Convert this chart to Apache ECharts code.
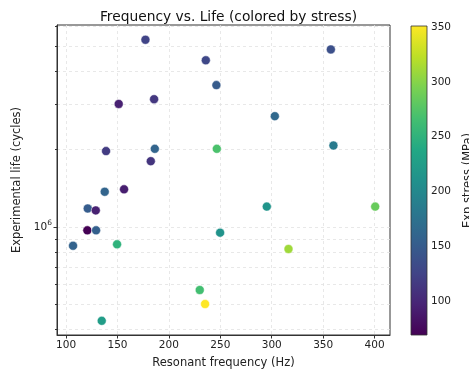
<!DOCTYPE html>
<html>
<head>
<meta charset="utf-8">
<script src="https://cdn.jsdelivr.net/npm/echarts@6/dist/echarts.min.js"></script>
<style>html,body{margin:0;padding:0;background:#fff}#c{width:469px;height:374px}</style>
</head>
<body>
<div id="c"></div>
<script>
// ---- data ----
const frequency = [177.2, 235.9, 246.2, 151.2, 185.6, 138.9, 186.3, 182.4, 246.6, 357.5, 303.0, 360.0, 137.6, 156.4, 121.1, 128.9, 120.7, 129.2, 106.8, 149.6, 249.8, 230.0, 235.2, 134.7, 295.2, 400.6, 316.3];
const life = [5.32e6, 4.43e6, 3.55e6, 3.0e6, 3.13e6, 1.97e6, 2.01e6, 1.80e6, 2.01e6, 4.88e6, 2.69e6, 2.07e6, 1.37e6, 1.40e6, 1.18e6, 1.16e6, 0.971e6, 0.971e6, 0.846e6, 0.857e6, 0.951e6, 0.570e6, 0.503e6, 0.433e6, 1.20e6, 1.20e6, 0.822e6];
const stress = [125, 130, 150, 95, 115, 118, 160, 112, 270, 138, 165, 185, 160, 92, 152, 95, 69, 155, 158, 250, 212, 265, 351, 225, 215, 285, 310];
const xTicks = [100, 150, 200, 250, 300, 350, 400];
const yMajorTicks = [1e6];
const yMinorTicks = [4e5, 5e5, 6e5, 7e5, 8e5, 9e5, 2e6, 3e6, 4e6, 5e6, 6e6];
const cbTicks = [100, 150, 200, 250, 300, 350];

const viridis = ['#440154','#482475','#414487','#355f8d','#2a788e','#21918c','#22a884','#44bf70','#7ad151','#bddf26','#fde725'];
const sMin = Math.min(...stress), sMax = Math.max(...stress);
const points = frequency.map((f, i) => [f, life[i], stress[i]]);

const FONT = 'DejaVu Sans';
const gridStyle = {show: true, lineStyle: {color: '#e3e3e3', type: [3, 3], width: 0.8}};

const chart = echarts.init(document.getElementById('c'));
chart.setOption({
  animation: false,
  textStyle: {fontFamily: FONT},
  title: {
    text: 'Frequency vs. Life (colored by stress)',
    left: 223.5, textAlign: 'center', top: 5,
    textStyle: {fontFamily: FONT, fontSize: 13.8, fontWeight: 'normal', color: '#111'}
  },
  grid: [
    {left: 57, right: 79, top: 25, bottom: 39, show: true, borderColor: '#333', borderWidth: 1, outerBoundsMode: 'none', containLabel: false},
    {left: 411, width: 16, top: 26, height: 309, outerBoundsMode: 'none', containLabel: false}
  ],
  xAxis: [
    {
      type: 'value', gridIndex: 0, min: 91.2, max: 415,
      name: 'Resonant frequency (Hz)', nameLocation: 'middle', nameGap: 22,
      nameTextStyle: {fontFamily: FONT, fontSize: 11.5, color: '#222'},
      axisLine: {show: true, onZero: false, lineStyle: {color: '#333'}},
      axisTick: {show: true, length: 3.5, customValues: xTicks, lineStyle: {color: '#333'}},
      axisLabel: {customValues: xTicks, fontFamily: FONT, fontSize: 10.5, color: '#222', margin: 5},
      splitLine: gridStyle
    },
    {type: 'value', gridIndex: 1, min: 0, max: 1, show: false}
  ],
  yAxis: [
    {
      type: 'log', logBase: 10, gridIndex: 0, min: 3.815e5, max: 6.07e6, position: 'left',
      name: 'Experimental life (cycles)', nameLocation: 'middle', nameGap: 33, nameRotate: 90,
      nameTextStyle: {fontFamily: FONT, fontSize: 11.5, color: '#222'},
      axisLine: {show: true, onZero: false, lineStyle: {color: '#333'}},
      axisTick: {show: true, length: 3.5, customValues: yMajorTicks, lineStyle: {color: '#333'}},
      axisLabel: {
        customValues: yMajorTicks, margin: 5, color: '#222',
        formatter: v => '{b|10}{s|' + Math.round(Math.log10(v)) + '}',
        rich: {
          b: {fontFamily: FONT, fontSize: 10.5, color: '#222'},
          s: {fontFamily: FONT, fontSize: 7.5, color: '#222', padding: [0, 0, 7, 0]}
        }
      },
      splitLine: gridStyle
    },
    {
      type: 'log', logBase: 10, gridIndex: 0, min: 3.815e5, max: 6.07e6, position: 'left',
      axisLine: {show: false},
      axisTick: {show: true, length: 2, customValues: yMinorTicks, lineStyle: {color: '#333'}},
      axisLabel: {show: false, customValues: yMinorTicks},
      splitLine: gridStyle
    },
    {
      type: 'value', gridIndex: 1, min: sMin, max: sMax, position: 'right',
      name: 'Exp stress (MPa)', nameLocation: 'middle', nameGap: 35, nameRotate: 90,
      nameTextStyle: {fontFamily: FONT, fontSize: 11.5, color: '#222'},
      axisLine: {show: false},
      axisTick: {show: true, length: 3.5, customValues: cbTicks, lineStyle: {color: '#333'}},
      axisLabel: {customValues: cbTicks, fontFamily: FONT, fontSize: 10.5, color: '#222', margin: 4},
      splitLine: {show: false}
    }
  ],
  visualMap: {
    show: false, type: 'continuous', min: sMin, max: sMax, dimension: 2, seriesIndex: 0,
    inRange: {color: viridis}
  },
  series: [
    {
      type: 'scatter', xAxisIndex: 0, yAxisIndex: 0, data: points,
      symbolSize: 9, itemStyle: {borderColor: '#ffffff', borderWidth: 0.5, opacity: 1}
    },
    {
      type: 'custom', xAxisIndex: 1, yAxisIndex: 2, silent: true,
      data: [[0, sMin, 1, sMax]],
      renderItem: (params, api) => {
        const p0 = api.coord([api.value(0), api.value(3)]);
        const p1 = api.coord([api.value(2), api.value(1)]);
        return {
          type: 'rect',
          shape: {x: p0[0], y: p0[1], width: p1[0] - p0[0], height: p1[1] - p0[1]},
          style: {
            fill: new echarts.graphic.LinearGradient(0, 1, 0, 0,
              viridis.map((c, i) => ({offset: i / (viridis.length - 1), color: c}))),
            stroke: '#333', lineWidth: 0.8
          }
        };
      }
    }
  ]
});
</script>
</body>
</html>
